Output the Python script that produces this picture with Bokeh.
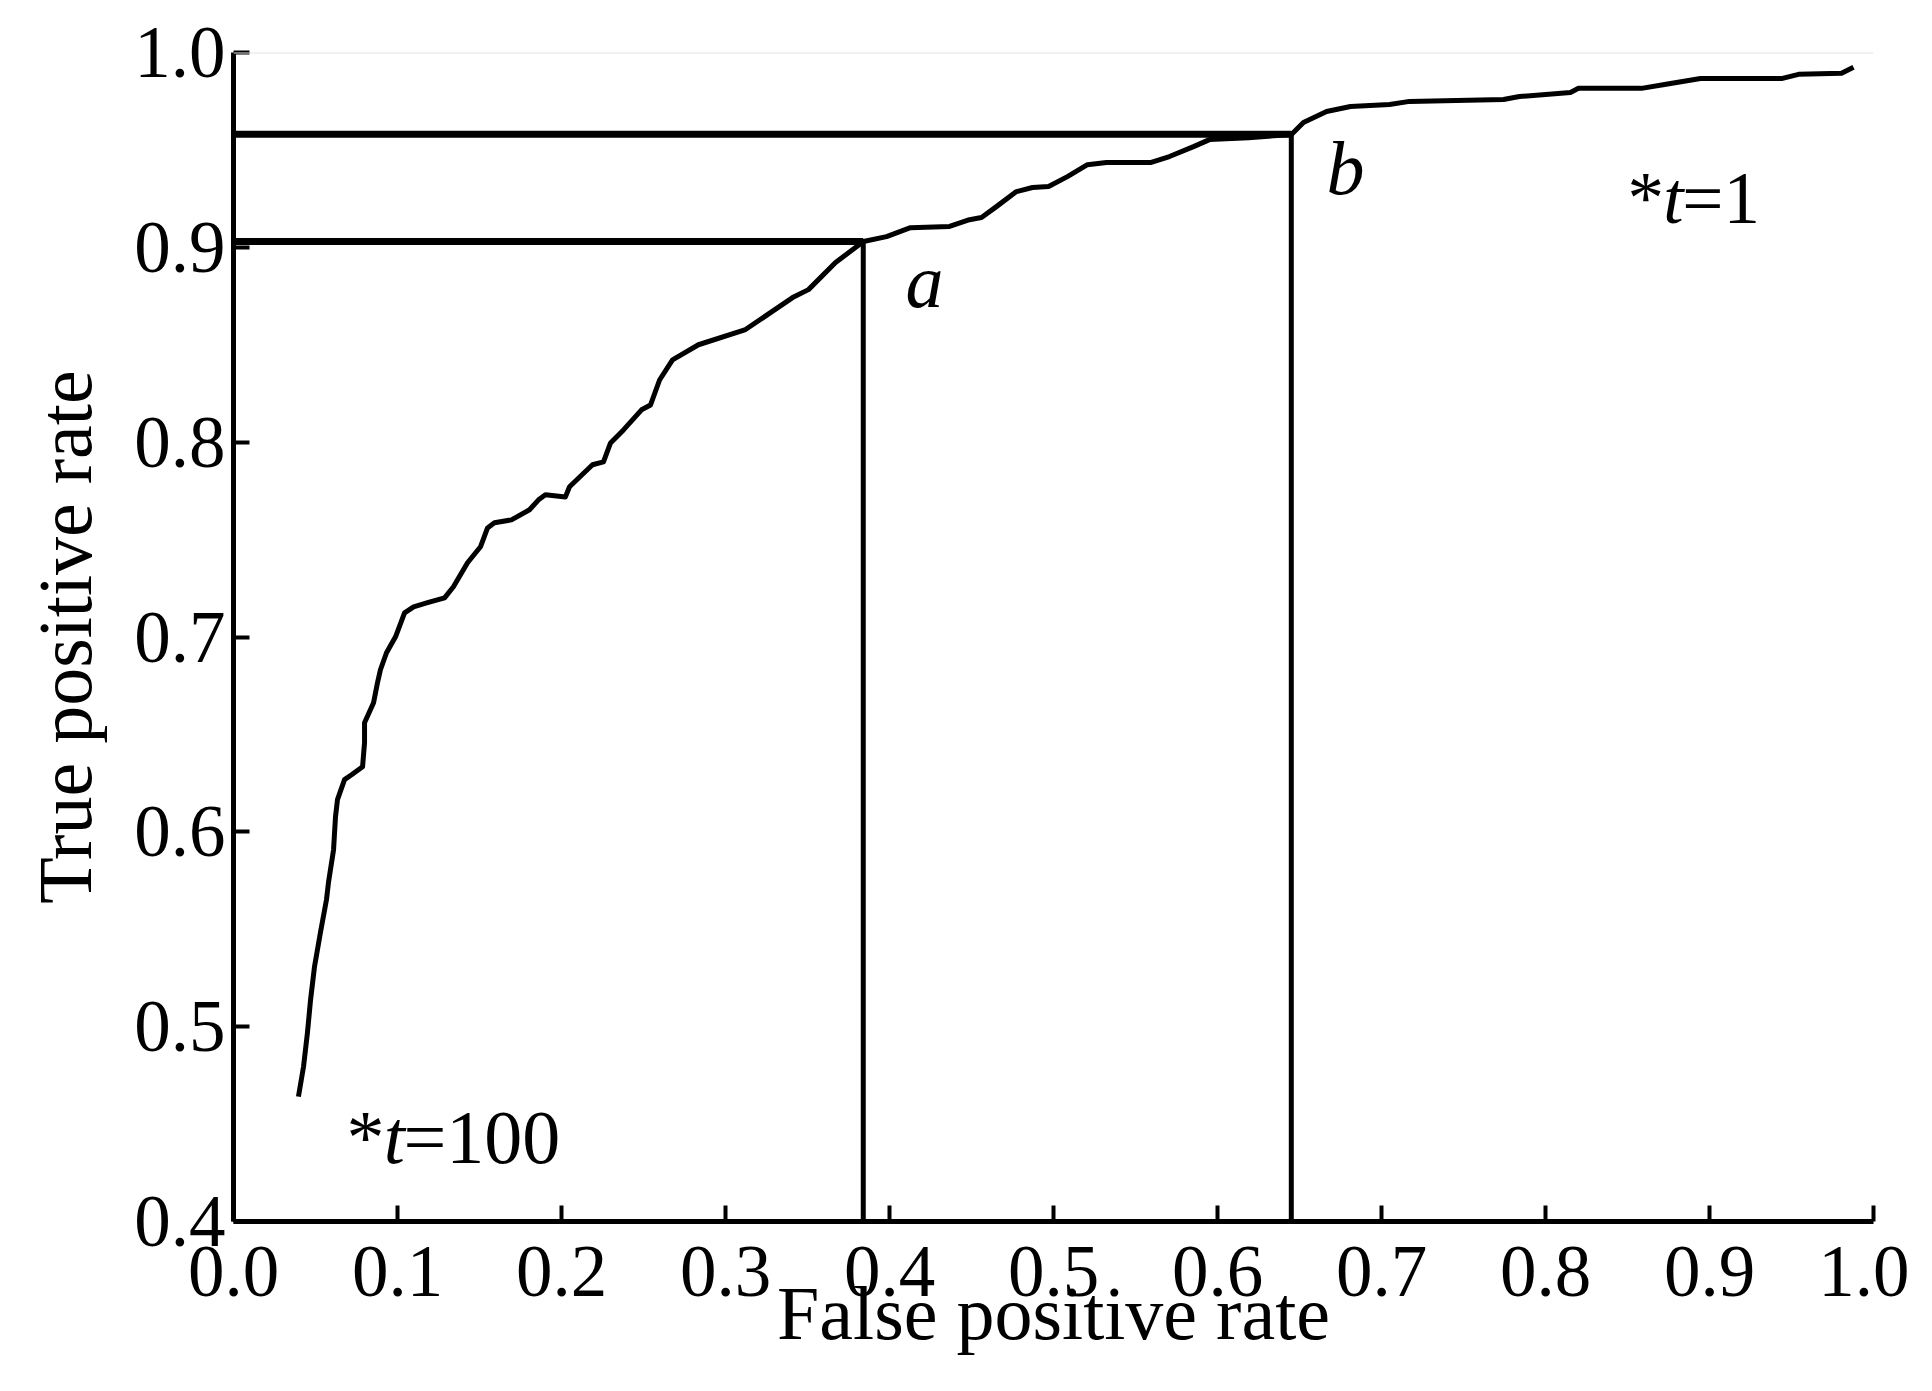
from bokeh.plotting import figure
from bokeh.models import FixedTicker, Span, Range1d
from bokeh.embed import file_html
from bokeh.resources import INLINE
from bokeh.core.properties import value

# ROC curve (false positive rate, true positive rate)
fpr = [0.0396, 0.0427, 0.0451, 0.0470, 0.0494, 0.0530, 0.0567, 0.0579, 0.0610, 0.0622,
       0.0634, 0.0677, 0.0720, 0.0787, 0.0799, 0.0799, 0.0854, 0.0878, 0.0896, 0.0933,
       0.0988, 0.1043, 0.1098, 0.1183, 0.1287, 0.1341, 0.1427, 0.1506, 0.1549, 0.1591,
       0.1695, 0.1805, 0.1860, 0.1902, 0.2024, 0.2049, 0.2189, 0.2256, 0.2299, 0.2378,
       0.2488, 0.2543, 0.2598, 0.2677, 0.2835, 0.3122, 0.3409, 0.3506, 0.3671, 0.3841,
       0.3982, 0.4128, 0.4366, 0.4488, 0.4561, 0.4652, 0.4774, 0.4872, 0.4970, 0.5085,
       0.5207, 0.5323, 0.5591, 0.5707, 0.5854, 0.5951, 0.6189, 0.6451, 0.6524, 0.6665,
       0.6811, 0.7049, 0.7171, 0.7744, 0.7841, 0.8152, 0.8201, 0.8585, 0.8726, 0.8945,
       0.9445, 0.9543, 0.9805, 0.9878]
tpr = [0.4641, 0.4795, 0.4970, 0.5139, 0.5308, 0.5483, 0.5652, 0.5739, 0.5908, 0.6078,
       0.6165, 0.6268, 0.6293, 0.6334, 0.6457, 0.6560, 0.6663, 0.6765, 0.6832, 0.6919,
       0.7001, 0.7124, 0.7155, 0.7176, 0.7201, 0.7258, 0.7381, 0.7463, 0.7560, 0.7586,
       0.7601, 0.7653, 0.7704, 0.7730, 0.7719, 0.7771, 0.7884, 0.7899, 0.7996, 0.8063,
       0.8166, 0.8191, 0.8319, 0.8422, 0.8500, 0.8578, 0.8742, 0.8783, 0.8922, 0.9030,
       0.9055, 0.9101, 0.9107, 0.9142, 0.9153, 0.9209, 0.9286, 0.9307, 0.9312, 0.9363,
       0.9424, 0.9435, 0.9435, 0.9466, 0.9517, 0.9553, 0.9563, 0.9579, 0.9641, 0.9697,
       0.9723, 0.9733, 0.9749, 0.9759, 0.9774, 0.9795, 0.9816, 0.9816, 0.9836, 0.9867,
       0.9867, 0.9888, 0.9893, 0.9924]

# operating points a and b
point_labels = ["a", "b"]
point_fpr = [0.384, 0.645]
point_tpr = [0.903, 0.958]

x_ticks = [0.0, 0.1, 0.2, 0.3, 0.4, 0.5, 0.6, 0.7, 0.8, 0.9, 1.0]
x_tick_labels = ["0.0", "0.1", "0.2", "0.3", "0.4", "0.5", "0.6", "0.7", "0.8", "0.9", "1.0"]
y_ticks = [0.4, 0.5, 0.6, 0.7, 0.8, 0.9, 1.0]
y_tick_labels = ["0.4", "0.5", "0.6", "0.7", "0.8", "0.9", "1.0"]

x_label = "False positive rate"
y_label = "True positive rate"

X_MIN, X_MAX = 0.0, 1.0
Y_MIN, Y_MAX = 0.4, 1.0

FONT = "Liberation Serif"
TEXT_SHIFT = -24  # screen px, lifts annotation baselines

p = figure(
    frame_width=1640, frame_height=1169,
    x_range=Range1d(X_MIN, X_MAX), y_range=Range1d(Y_MIN, Y_MAX),
    output_backend="svg", toolbar_location=None,
    min_border_left=233, min_border_top=52, min_border_right=36, min_border_bottom=110,
    background_fill_color="white", border_fill_color="white",
)
p.outline_line_color = None
p.xgrid.visible = False
p.ygrid.visible = False

p.add_layout(Span(location=Y_MAX, dimension="width", line_color="#e2e2e2", line_width=2))

for ax, ticks, labels, lab in ((p.xaxis[0], x_ticks, x_tick_labels, x_label),
                               (p.yaxis[0], y_ticks, y_tick_labels, y_label)):
    ax.ticker = FixedTicker(ticks=ticks)
    ax.major_label_overrides = dict(zip(ticks, labels))
    ax.axis_label = lab
    ax.axis_line_width = 5
    ax.axis_line_color = "black"
    ax.major_tick_in = 16
    ax.major_tick_out = 0
    ax.major_tick_line_width = 4
    ax.major_tick_line_color = "black"
    ax.minor_tick_line_color = None
    ax.major_label_text_font = FONT
    ax.major_label_text_font_size = "73px"
    ax.major_label_text_color = "black"
    ax.axis_label_text_font = FONT
    ax.axis_label_text_font_size = "76px"
    ax.axis_label_text_font_style = "normal"
    ax.axis_label_text_color = "black"

p.xaxis.major_label_standoff = 25
p.xaxis.axis_label_standoff = -28
p.yaxis.major_label_standoff = 8
p.yaxis.axis_label_standoff = 24

# reference lines to points a and b
p.segment(x0=[X_MIN] * 2, y0=point_tpr, x1=point_fpr, y1=point_tpr,
          line_color="black", line_width=7)
p.segment(x0=point_fpr, y0=[Y_MIN] * 2, x1=point_fpr, y1=point_tpr,
          line_color="black", line_width=5)

# ROC curve
p.line(fpr, tpr, line_color="black", line_width=5, line_join="round")

# point labels
p.text(x=[0.4098, 0.6665], y=[0.8705, 0.9284], text=point_labels,
       text_font=value(FONT), text_font_style="italic", text_font_size="76px",
       text_align="left", text_baseline="alphabetic", text_color="black",
       y_offset=TEXT_SHIFT)

# threshold annotations: *t=100 and *t=1
def t_note(x, y, num, size):
    s = float(size)
    common = dict(text_font=value(FONT), text_font_size=f"{size}px",
                  text_align="left", text_baseline="alphabetic", text_color="black",
                  y_offset=TEXT_SHIFT)
    p.text(x=[x], y=[y], text=["*"], **common)
    p.text(x=[x], y=[y], text=["t"], x_offset=0.49 * s, text_font_style="italic", **common)
    p.text(x=[x], y=[y], text=["=" + num], x_offset=0.75 * s, **common)

t_note(0.0689, 0.4310, "100", 76)
t_note(0.850, 0.9125, "1", 73)

open("out.html", "w").write(file_html(p, INLINE))
